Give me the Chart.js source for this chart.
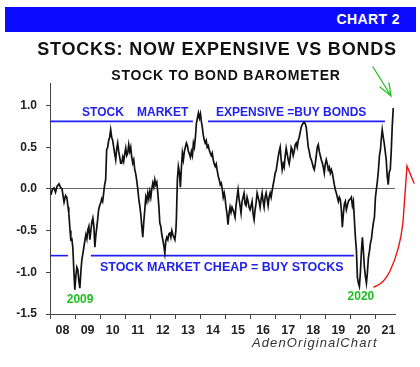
<!DOCTYPE html>
<html>
<head>
<meta charset="utf-8">
<script src="https://cdn.jsdelivr.net/npm/chart.js@4.4.1/dist/chart.umd.min.js"></script>
<style>
  html, body { margin: 0; padding: 0; background: #fff; }
  #wrap { position: relative; width: 420px; height: 367px; overflow: hidden; font-family: "Liberation Sans", Arial, sans-serif; }
  #chart { position: absolute; left: 0; top: 0; }
  .bar { position: absolute; left: 5px; top: 7px; width: 411px; height: 25px; background: #0a0aff; }
  .bar span { position: absolute; right: 16px; top: 4px; color: #fff; font-weight: bold; font-size: 14px; letter-spacing: 0.4px; }
  .title { position: absolute; left: 0; width: 434px; text-align: center; top: 39px; font-weight: bold; font-size: 18px; letter-spacing: 0.8px; color: #111; white-space: nowrap; }
  .sub { position: absolute; left: 0; width: 452px; text-align: center; top: 67px; font-weight: bold; font-size: 14px; letter-spacing: 0.8px; color: #111; white-space: nowrap; }
  .credit { position: absolute; left: 252px; top: 335px; font-style: italic; font-size: 13px; letter-spacing: 1.1px; color: #333; white-space: nowrap; }
</style>
</head>
<body>
<div id="wrap">
  <canvas id="chart" width="420" height="367"></canvas>
  <div class="bar"><span>CHART 2</span></div>
  <div class="title">STOCKS: NOW EXPENSIVE VS BONDS</div>
  <div class="sub">STOCK TO BOND BAROMETER</div>
  <div class="credit">AdenOriginalChart</div>
</div>
<script>
// stock to bond barometer (decimal year, value)
const dates = [
  2008.04, 2008.10, 2008.16, 2008.22, 2008.28, 2008.36, 2008.42, 2008.48, 2008.52, 2008.56,
  2008.62, 2008.67, 2008.72, 2008.75, 2008.80, 2008.83, 2008.87, 2008.91, 2008.95, 2008.99,
  2009.03, 2009.07, 2009.11, 2009.15, 2009.19, 2009.23, 2009.27, 2009.31, 2009.35, 2009.39,
  2009.43, 2009.47, 2009.51, 2009.55, 2009.59, 2009.63, 2009.67, 2009.71, 2009.75, 2009.79,
  2009.83, 2009.87, 2009.90, 2009.94, 2009.98, 2010.02, 2010.06, 2010.10, 2010.14, 2010.18,
  2010.22, 2010.26, 2010.30, 2010.34, 2010.38, 2010.42, 2010.46, 2010.50, 2010.54, 2010.58,
  2010.62, 2010.66, 2010.70, 2010.74, 2010.78, 2010.82, 2010.86, 2010.90, 2010.94, 2010.98,
  2011.02, 2011.06, 2011.10, 2011.14, 2011.18, 2011.22, 2011.26, 2011.30, 2011.34, 2011.38,
  2011.42, 2011.46, 2011.50, 2011.54, 2011.58, 2011.62, 2011.66, 2011.70, 2011.74, 2011.78,
  2011.82, 2011.86, 2011.90, 2011.94, 2011.98, 2012.02, 2012.06, 2012.10, 2012.14, 2012.18,
  2012.22, 2012.26, 2012.30, 2012.34, 2012.38, 2012.42, 2012.46, 2012.50, 2012.54, 2012.58,
  2012.62, 2012.66, 2012.70, 2012.74, 2012.78, 2012.82, 2012.86, 2012.90, 2012.94, 2012.98,
  2013.02, 2013.04, 2013.08, 2013.12, 2013.16, 2013.20, 2013.24, 2013.28, 2013.32, 2013.36,
  2013.40, 2013.44, 2013.48, 2013.52, 2013.56, 2013.60, 2013.64, 2013.68, 2013.72, 2013.76,
  2013.80, 2013.84, 2013.88, 2013.92, 2013.96, 2014.00, 2014.04, 2014.07, 2014.11, 2014.15,
  2014.19, 2014.23, 2014.27, 2014.31, 2014.35, 2014.39, 2014.43, 2014.47, 2014.51, 2014.55,
  2014.59, 2014.63, 2014.67, 2014.71, 2014.75, 2014.79, 2014.83, 2014.87, 2014.91, 2014.95,
  2014.98, 2015.02, 2015.06, 2015.10, 2015.14, 2015.18, 2015.22, 2015.26, 2015.30, 2015.34,
  2015.38, 2015.42, 2015.46, 2015.50, 2015.54, 2015.58, 2015.62, 2015.66, 2015.70, 2015.74,
  2015.78, 2015.82, 2015.86, 2015.90, 2015.94, 2015.98, 2016.02, 2016.06, 2016.10, 2016.14,
  2016.18, 2016.22, 2016.26, 2016.30, 2016.34, 2016.38, 2016.42, 2016.46, 2016.50, 2016.54,
  2016.58, 2016.62, 2016.66, 2016.70, 2016.74, 2016.78, 2016.82, 2016.86, 2016.90, 2016.94,
  2016.98, 2017.02, 2017.06, 2017.10, 2017.14, 2017.18, 2017.22, 2017.26, 2017.30, 2017.34,
  2017.38, 2017.42, 2017.46, 2017.50, 2017.54, 2017.58, 2017.62, 2017.66, 2017.70, 2017.74,
  2017.78, 2017.82, 2017.86, 2017.90, 2017.94, 2017.98, 2018.02, 2018.06, 2018.10, 2018.14,
  2018.18, 2018.22, 2018.26, 2018.30, 2018.34, 2018.38, 2018.42, 2018.46, 2018.50, 2018.54,
  2018.58, 2018.62, 2018.66, 2018.70, 2018.74, 2018.78, 2018.82, 2018.86, 2018.90, 2018.94,
  2018.98, 2019.02, 2019.06, 2019.10, 2019.14, 2019.18, 2019.22, 2019.26, 2019.30, 2019.34,
  2019.38, 2019.42, 2019.46, 2019.50, 2019.54, 2019.58, 2019.62, 2019.66, 2019.70, 2019.74,
  2019.78, 2019.82, 2019.86, 2019.90, 2019.94, 2019.98, 2020.02, 2020.06, 2020.10, 2020.14,
  2020.18, 2020.22, 2020.26, 2020.30, 2020.34, 2020.38, 2020.42, 2020.46, 2020.50, 2020.54,
  2020.58, 2020.62, 2020.66, 2020.70, 2020.74, 2020.78, 2020.82, 2020.86, 2020.90, 2020.94,
  2020.98, 2021.02, 2021.06, 2021.10, 2021.14, 2021.18, 2021.21, 2021.25, 2021.29, 2021.33,
  2021.37, 2021.41, 2021.45, 2021.49, 2021.53, 2021.57, 2021.61, 2021.65, 2021.69
];
const barometer = [
  -0.07, 0.00, 0.01, -0.04, 0.03, 0.06, 0.02, 0.00, -0.08, -0.16,
  -0.08, -0.10, -0.22, -0.29, -0.50, -0.61, -0.60, -0.70, -0.97, -1.21,
  -1.05, -0.94, -0.97, -1.10, -1.19, -1.00, -0.85, -0.78, -0.70, -0.62,
  -0.55, -0.60, -0.49, -0.45, -0.61, -0.50, -0.40, -0.35, -0.45, -0.70,
  -0.55, -0.45, -0.37, -0.25, -0.20, -0.17, -0.12, -0.15, -0.05, 0.05,
  0.11, 0.47, 0.50, 0.58, 0.62, 0.71, 0.62, 0.58, 0.50, 0.42,
  0.35, 0.48, 0.55, 0.45, 0.38, 0.31, 0.31, 0.38, 0.33, 0.42,
  0.49, 0.40, 0.43, 0.53, 0.45, 0.50, 0.38, 0.31, 0.35, 0.23,
  0.18, 0.10, 0.00, -0.12, -0.20, -0.30, -0.45, -0.58, -0.40, -0.25,
  -0.10, -0.15, -0.05, -0.12, -0.03, -0.10, 0.00, 0.07, 0.02, 0.11,
  0.05, 0.08, -0.05, -0.20, -0.41, -0.45, -0.55, -0.61, -0.68, -0.77,
  -0.62, -0.58, -0.61, -0.54, -0.53, -0.58, -0.50, -0.55, -0.58, -0.61,
  -0.50, -0.37, 0.11, 0.27, 0.20, 0.02, 0.25, 0.43, 0.35, 0.45,
  0.50, 0.55, 0.52, 0.45, 0.42, 0.38, 0.45, 0.40, 0.55, 0.50,
  0.62, 0.79, 0.85, 0.91, 0.85, 0.90, 0.80, 0.75, 0.65, 0.59,
  0.55, 0.58, 0.50, 0.52, 0.47, 0.43, 0.40, 0.43, 0.35, 0.30,
  0.27, 0.30, 0.22, 0.15, 0.11, 0.05, 0.07, 0.00, -0.10, -0.05,
  -0.10, -0.22, -0.30, -0.43, -0.30, -0.22, -0.28, -0.22, -0.25, -0.29,
  -0.34, -0.20, -0.10, -0.01, -0.12, -0.20, -0.29, -0.15, -0.10, -0.05,
  -0.18, -0.20, -0.10, -0.15, -0.22, -0.25, -0.20, -0.15, -0.30, -0.37,
  -0.25, -0.17, -0.05, -0.10, -0.15, -0.22, -0.12, -0.05, -0.15, -0.22,
  -0.10, -0.05, -0.12, -0.20, -0.10, -0.05, -0.10, -0.02, 0.05, 0.11,
  0.19, 0.22, 0.30, 0.38, 0.45, 0.50, 0.35, 0.23, 0.30, 0.26,
  0.40, 0.49, 0.42, 0.35, 0.30, 0.38, 0.50, 0.47, 0.40, 0.45,
  0.53, 0.55, 0.50, 0.58, 0.62, 0.68, 0.74, 0.77, 0.79, 0.80,
  0.78, 0.74, 0.62, 0.50, 0.45, 0.38, 0.35, 0.31, 0.26, 0.23,
  0.30, 0.40, 0.50, 0.53, 0.45, 0.40, 0.35, 0.31, 0.26, 0.19,
  0.30, 0.35, 0.30, 0.23, 0.26, 0.19, 0.23, 0.19, 0.12, 0.05,
  -0.01, -0.05, -0.10, -0.15, -0.10, -0.13, -0.25, -0.46, -0.30, -0.18,
  -0.15, -0.25, -0.20, -0.15, -0.13, -0.12, -0.10, -0.20, -0.15, -0.37,
  -0.58, -0.73, -1.06, -1.13, -1.17, -1.00, -0.75, -0.58, -0.75, -0.94,
  -1.05, -1.13, -1.00, -0.82, -0.75, -0.65, -0.60, -0.49, -0.40, -0.34,
  -0.10, 0.00, 0.10, 0.23, 0.40, 0.47, 0.59, 0.71, 0.62, 0.55,
  0.45, 0.35, 0.15, 0.05, 0.20, 0.23, 0.45, 0.75, 0.97
];

const yearLabels = ['08', '09', '10', '11', '12', '13', '14', '15', '16', '17', '18', '19', '20', '21'];
const yTicks = [-1.5, -1.0, -0.5, 0.0, 0.5, 1.0];

// signal bands
const expensiveLevel = 0.81;
const expensiveSpans = [[2008.0, 2013.70], [2014.30, 2021.36]];
const cheapLevel = -0.80;
const cheapSpans = [[2008.0, 2008.72], [2009.63, 2020.12]];

const blue = '#1f1fee';
const green = '#1fbf1f';

const notes = {
  id: 'notes',
  beforeDatasetsDraw(chart) {
    const { ctx, scales: { x, y } } = chart;
    ctx.save();
    ctx.strokeStyle = blue;
    ctx.lineWidth = 1.6;
    const band = (lvl, spans) => spans.forEach(s => {
      ctx.beginPath();
      ctx.moveTo(x.getPixelForValue(s[0]), y.getPixelForValue(lvl));
      ctx.lineTo(x.getPixelForValue(s[1]), y.getPixelForValue(lvl));
      ctx.stroke();
    });
    band(expensiveLevel, expensiveSpans);
    band(cheapLevel, cheapSpans);
    ctx.restore();
  },
  afterDatasetsDraw(chart) {
    const { ctx, scales: { x, y } } = chart;
    ctx.save();
    ctx.textBaseline = 'alphabetic';
    ctx.fillStyle = blue;
    ctx.font = 'bold 12px "Liberation Sans", Arial, sans-serif';
    ctx.textAlign = 'left';
    ctx.fillText('STOCK', x.getPixelForValue(2009.28), y.getPixelForValue(0.876));
    ctx.fillText('MARKET', x.getPixelForValue(2011.47), y.getPixelForValue(0.876));
    ctx.fillText('EXPENSIVE =BUY BONDS', x.getPixelForValue(2014.62), y.getPixelForValue(0.876));
    ctx.font = 'bold 12.5px "Liberation Sans", Arial, sans-serif';
    ctx.fillText('STOCK MARKET CHEAP = BUY STOCKS', x.getPixelForValue(2009.99), y.getPixelForValue(-0.985));

    ctx.fillStyle = green;
    ctx.font = 'bold 12px "Liberation Sans", Arial, sans-serif';
    ctx.textAlign = 'center';
    ctx.fillText('2009', x.getPixelForValue(2009.2), y.getPixelForValue(-1.37));
    ctx.fillText('2020', x.getPixelForValue(2020.4), y.getPixelForValue(-1.33));

    // hand drawn arrows
    ctx.lineWidth = 1.3;
    ctx.lineCap = 'round';
    ctx.strokeStyle = '#22c422';
    ctx.beginPath();
    ctx.moveTo(373, 67);
    ctx.lineTo(391, 96);
    ctx.moveTo(380, 87);
    ctx.lineTo(391, 96);
    ctx.lineTo(389, 83);
    ctx.stroke();

    ctx.strokeStyle = '#ee1111';
    ctx.lineWidth = 1.4;
    ctx.beginPath();
    ctx.moveTo(374, 287);
    ctx.quadraticCurveTo(384, 284, 390, 271);
    ctx.quadraticCurveTo(400, 250, 403, 222);
    ctx.quadraticCurveTo(405, 195, 407, 166);
    ctx.lineTo(414, 183);
    ctx.stroke();
    ctx.restore();
  }
};

new Chart(document.getElementById('chart'), {
  type: 'line',
  data: {
    datasets: [{
      data: dates.map((d, i) => ({ x: d, y: barometer[i] })),
      borderColor: '#111',
      borderWidth: 1.7,
      pointRadius: 0,
      tension: 0,
      fill: false
    }]
  },
  options: {
    responsive: false,
    animation: false,
    devicePixelRatio: 1,
    layout: { padding: { top: 83, right: 25, left: 0, bottom: 0 } },
    plugins: { legend: { display: false }, tooltip: { enabled: false } },
    scales: {
      x: {
        type: 'linear',
        min: 2008,
        max: 2021.76,
        afterBuildTicks: s => { s.ticks = yearLabels.map((l, i) => ({ value: 2008.5 + i })); },
        afterFit: s => { s.height = 53; },
        border: { color: '#444', width: 1 },
        grid: { offset: true, drawOnChartArea: false, drawTicks: true, tickLength: 5, color: '#444' },
        ticks: {
          autoSkip: false,
          maxRotation: 0,
          padding: 4,
          color: '#222',
          font: { family: '"Liberation Sans", Arial, sans-serif', size: 12.5, weight: 'bold' },
          callback: (v, i) => yearLabels[i]
        }
      },
      y: {
        min: -1.5,
        max: 1.27,
        afterBuildTicks: s => { s.ticks = yTicks.map(v => ({ value: v })); },
        afterFit: s => { s.width = 50; },
        border: { color: '#444', width: 1 },
        grid: {
          drawTicks: true,
          tickLength: 4,
          tickColor: '#444',
          lineWidth: 1,
          color: c => (c.tick && c.tick.value === 0 ? '#666' : 'transparent')
        },
        ticks: {
          padding: 9,
          color: '#222',
          font: { family: '"Liberation Sans", Arial, sans-serif', size: 12, weight: 'bold' },
          callback: v => v.toFixed(1)
        }
      }
    }
  },
  plugins: [notes]
});
</script>
</body>
</html>
